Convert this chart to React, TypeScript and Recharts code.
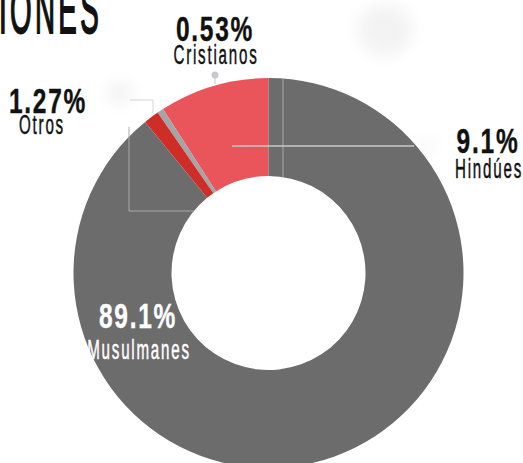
import React from "react";
import { PieChart, Pie, Cell } from "recharts";

const categories = ["Hindúes", "Cristianos", "Otros", "Musulmanes"];
const values = [9.1, 0.53, 1.27, 89.1];
const percentLabels = ["9.1%", "0.53%", "1.27%", "89.1%"];
const colors = ["#ea555b", "#a3a5a6", "#cf2d28", "#6c6c6c"];
const rows = categories.map((name, i) => ({ name, value: values[i] }));

const FONT = "'Liberation Sans', sans-serif";

const Narrow = ({ x, y, size, sx, fill, weight, anchor = "middle", thick = 0, spacing = 0, children }: any) => (
  <text
    transform={`translate(${x} ${y}) scale(${sx} 1)`}
    textAnchor={anchor}
    fontFamily={FONT}
    fontSize={size}
    fontWeight={weight}
    fill={fill}
    stroke={thick ? fill : "none"}
    strokeWidth={thick}
    letterSpacing={spacing}
  >
    {children}
  </text>
);

const Value = ({ i, x, y, fill = "#111" }: any) => (
  <Narrow x={x} y={y} size={35} sx={0.7} weight={700} spacing={2.5} thick={0.4} fill={fill}>{percentLabels[i]}</Narrow>
);
const Name = ({ i, x, y, fill = "#111" }: any) => (
  <Narrow x={x} y={y} size={27} sx={0.56} spacing={3.2} thick={0.5} fill={fill}>{categories[i]}</Narrow>
);

export default function App() {
  return (
    <div style={{ position: "absolute", left: 0, top: 0, width: 523, height: 463, overflow: "hidden", background: "#fff" }}>
      <svg width={523} height={463} style={{ position: "absolute", left: 0, top: 0 }}>
        <defs>
          <filter id="soft" x="-50%" y="-50%" width="200%" height="200%">
            <feGaussianBlur stdDeviation="8" />
          </filter>
        </defs>
        <g filter="url(#soft)" fill="#f3f3f3">
          <ellipse cx={120} cy={93} rx={14} ry={11} />
          <ellipse cx={385} cy={30} rx={28} ry={26} />
          <ellipse cx={425} cy={146} rx={14} ry={4} />
        </g>
      </svg>
      <div style={{ position: "absolute", left: 0, top: 0 }}>
        <PieChart width={523} height={463} margin={{ top: 0, right: 0, bottom: 0, left: 0 }}>
          <Pie
            data={rows}
            dataKey="value"
            nameKey="name"
            cx={268.5}
            cy={273}
            innerRadius={97}
            outerRadius={195}
            startAngle={90}
            endAngle={450}
            stroke="none"
            isAnimationActive={false}
          >
            {rows.map((r, i) => (
              <Cell key={r.name} fill={colors[i]} />
            ))}
          </Pie>
        </PieChart>
      </div>
      <svg width={523} height={463} style={{ position: "absolute", left: 0, top: 0 }}>
        <path d="M283 79V177" stroke="#bdbdbd" strokeWidth={1} opacity={0.75} fill="none" />
        <path d="M232 146H414" stroke="#c9c9c9" strokeWidth={1.5} fill="none" />
        <path d="M130 100H153V113" stroke="#d5d5dc" strokeWidth={1} fill="none" />
        <path d="M129 127V211H194" stroke="#a9a9a9" strokeWidth={1} fill="none" />
        <path d="M215 78V84" stroke="#c8c8d0" strokeWidth={1} fill="none" />
        <circle cx={215} cy={75} r={3.5} fill="#c8c8d0" />

        <Narrow x={102} y={33} size={66} sx={0.42} anchor="end" weight={400} spacing={8} thick={2} fill="#111">IONES</Narrow>

        <Value i={1} x={215} y={41} />
        <Name i={1} x={216} y={64} />
        <Value i={2} x={48} y={113} />
        <Name i={2} x={42} y={134} />
        <Value i={0} x={488} y={153} />
        <Name i={0} x={489} y={178} />
        <Value i={3} x={138} y={328} fill="#fff" />
        <Name i={3} x={139} y={359} fill="#fff" />
      </svg>
    </div>
  );
}
